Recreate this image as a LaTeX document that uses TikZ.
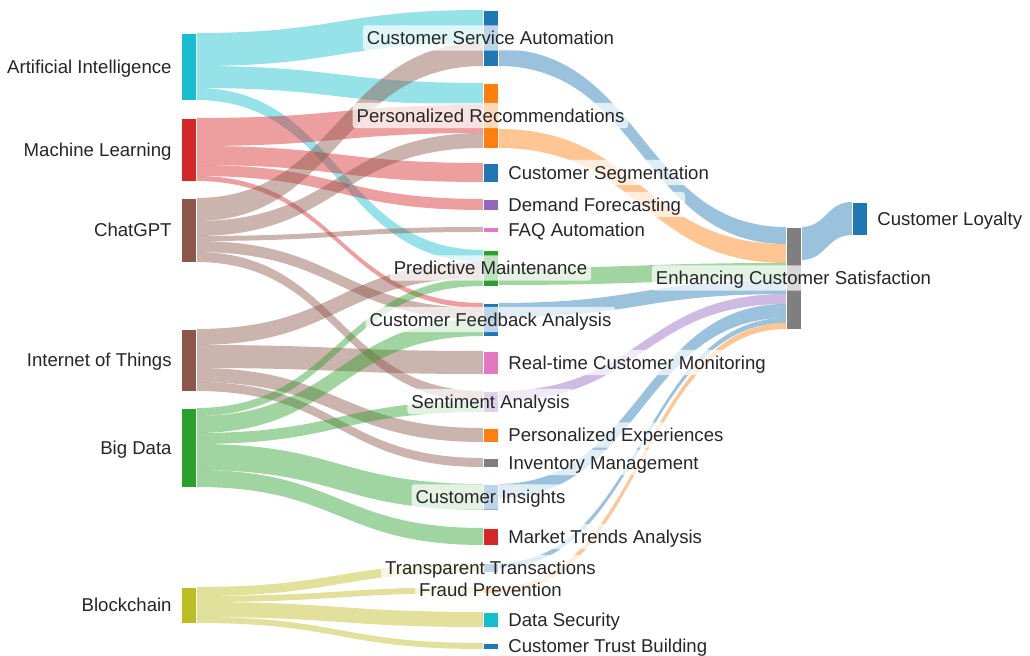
\documentclass[tikz,border=0pt]{standalone}
\usepackage{fontspec}
\setmainfont{Liberation Sans}
\usetikzlibrary{calc,backgrounds}

% category colours
\definecolor{cblue}{HTML}{1F77B4}
\definecolor{corange}{HTML}{FF7F0E}
\definecolor{cgreen}{HTML}{2CA02C}
\definecolor{cred}{HTML}{D62728}
\definecolor{cpurple}{HTML}{9467BD}
\definecolor{cbrown}{HTML}{8C564B}
\definecolor{cpink}{HTML}{E377C2}
\definecolor{cgray}{HTML}{7F7F7F}
\definecolor{colive}{HTML}{BCBD22}
\definecolor{ccyan}{HTML}{17BECF}

\tikzset{
  bar/.style={rectangle, inner sep=0pt, outer sep=0pt, minimum width=7.5pt, draw=white, line width=0.25pt},
  lbl/.style={fill=white, fill opacity=.7, text opacity=1, rounded corners=1.5pt,
    inner xsep=2pt, inner ysep=1.8pt, text height=7.8pt, text depth=1.2pt,
    text=black!85, font=\fontsize{9.3}{11}\selectfont},
}

% name, x, top, bottom, colour
\newcommand\sknode[5]{\node[bar, fill=#5, anchor=north, minimum height={(#4-#3)*0.5pt}] (#1) at (#2,#3) {};}

% source, offset, target, offset, width, colour
\newcommand\flowband[6]{%
  \fill[#6, fill opacity=.45] let
    \p1=($(#1.north east)+(0,#2)$), \p2=($(#3.north west)+(0,#4)$),
    \p3=($(#3.north west)+(0,#4+#5)$), \p4=($(#1.north east)+(0,#2+#5)$),
    \n1={0.5*(\x1+\x2)} in
    (\p1) .. controls (\n1,\y1) and (\n1,\y2) .. (\p2) -- (\p3)
    .. controls (\n1,\y3) and (\n1,\y4) .. (\p4) -- cycle;}

\newcommand\lblL[2]{\node[lbl, anchor=east] (#1-l) at ([xshift=-2.5pt]#1.west) {#2};}
\newcommand\lblR[2]{\node[lbl, anchor=west] (#1-l) at ([xshift=3pt]#1.east) {#2};}
\newcommand\lblC[2]{\node[lbl] (#1-l) at (#1.center) {#2};}

\begin{document}
\begin{tikzpicture}[x=0.5pt, y=-0.5pt]
  \useasboundingbox (0,0) rectangle (1030,656);

  % technologies
  \sknode{ai}{188.5}{33}{100}{ccyan}
  \sknode{ml}{188.5}{118}{181}{cred}
  \sknode{gpt}{188.5}{198}{262}{cbrown}
  \sknode{iot}{188.5}{329}{391}{cbrown}
  \sknode{bd}{188.5}{408}{487}{cgreen}
  \sknode{bc}{188.5}{587}{623}{colive}

  % applications
  \sknode{csa}{490.5}{10}{66}{cblue}
  \sknode{pr}{490.5}{83}{148}{corange}
  \sknode{cs}{490.5}{163}{182}{cblue}
  \sknode{df}{490.5}{199}{210}{cpurple}
  \sknode{faq}{490.5}{227}{232}{cpink}
  \sknode{pm}{490.5}{250}{286}{cgreen}
  \sknode{cfa}{490.5}{303}{336}{cblue}
  \sknode{rcm}{490.5}{351}{374}{cpink}
  \sknode{sa}{490.5}{391}{412}{cpurple}
  \sknode{pe}{490.5}{428}{442}{corange}
  \sknode{im}{490.5}{458}{467}{cgray}
  \sknode{ci}{490.5}{484}{510}{cblue}
  \sknode{mta}{490.5}{528}{545}{cred}
  \sknode{tt}{490.5}{563}{572}{cblue}
  \sknode{fp}{490.5}{587}{593}{corange}
  \sknode{ds}{490.5}{612}{627}{ccyan}
  \sknode{ctb}{490.5}{643}{649}{cblue}

  % outcomes
  \sknode{ecs}{793.5}{227}{329}{cgray}
  \sknode{loy}{859.5}{202}{235}{cblue}

  \begin{scope}[on background layer]
  % technologies -> applications
  \flowband{ai}{0}{csa}{0}{33}{ccyan}
  \flowband{ai}{33}{pr}{0}{22}{ccyan}
  \flowband{ai}{55}{pm}{0}{12}{ccyan}
  \flowband{ml}{0}{pr}{22}{28}{cred}
  \flowband{ml}{28}{cs}{0}{19}{cred}
  \flowband{ml}{47}{df}{0}{11}{cred}
  \flowband{ml}{58}{cfa}{0}{5}{cred}
  \flowband{gpt}{0}{csa}{33}{23}{cbrown}
  \flowband{gpt}{23}{pr}{50}{15}{cbrown}
  \flowband{gpt}{38}{faq}{0}{5}{cbrown}
  \flowband{gpt}{43}{cfa}{5}{11}{cbrown}
  \flowband{gpt}{54}{sa}{0}{10}{cbrown}
  \flowband{iot}{0}{pm}{12}{16}{cbrown}
  \flowband{iot}{16}{rcm}{0}{23}{cbrown}
  \flowband{iot}{39}{pe}{0}{14}{cbrown}
  \flowband{iot}{53}{im}{0}{9}{cbrown}
  \flowband{bd}{0}{pm}{28}{8}{cgreen}
  \flowband{bd}{8}{cfa}{16}{17}{cgreen}
  \flowband{bd}{25}{sa}{10}{11}{cgreen}
  \flowband{bd}{36}{ci}{0}{26}{cgreen}
  \flowband{bd}{62}{mta}{0}{17}{cgreen}
  \flowband{bc}{0}{tt}{0}{9}{colive}
  \flowband{bc}{9}{fp}{0}{6}{colive}
  \flowband{bc}{15}{ds}{0}{15}{colive}
  \flowband{bc}{30}{ctb}{0}{6}{colive}

  % applications -> satisfaction
  \flowband{csa}{39}{ecs}{0}{17}{cblue}
  \flowband{pr}{46}{ecs}{17}{19}{corange}
  \flowband{pm}{18}{ecs}{36}{17}{cgreen}
  \flowband{cfa}{0}{ecs}{53}{14}{cblue}
  \flowband{sa}{0}{ecs}{67}{10}{cpurple}
  \flowband{ci}{0}{ecs}{77}{14}{cblue}
  \flowband{tt}{0}{ecs}{91}{5}{cblue}
  \flowband{fp}{0}{ecs}{96}{6}{corange}

  % satisfaction -> loyalty
  \flowband{ecs}{0}{loy}{0}{33}{cblue}
  \end{scope}

  % labels
  \lblL{ai}{Artificial Intelligence}
  \lblL{ml}{Machine Learning}
  \lblL{gpt}{ChatGPT}
  \lblL{iot}{Internet of Things}
  \lblL{bd}{Big Data}
  \lblL{bc}{Blockchain}
  \lblC{csa}{Customer Service Automation}
  \lblC{pr}{Personalized Recommendations}
  \lblR{cs}{Customer Segmentation}
  \lblR{df}{Demand Forecasting}
  \lblR{faq}{FAQ Automation}
  \lblC{pm}{Predictive Maintenance}
  \lblC{cfa}{Customer Feedback Analysis}
  \lblR{rcm}{Real-time Customer Monitoring}
  \lblC{sa}{Sentiment Analysis}
  \lblR{pe}{Personalized Experiences}
  \lblR{im}{Inventory Management}
  \lblC{ci}{Customer Insights}
  \lblR{mta}{Market Trends Analysis}
  \lblC{tt}{Transparent Transactions}
  \lblC{fp}{Fraud Prevention}
  \lblR{ds}{Data Security}
  \lblR{ctb}{Customer Trust Building}
  \lblC{ecs}{Enhancing Customer Satisfaction}
  \lblR{loy}{Customer Loyalty}
\end{tikzpicture}
\end{document}
